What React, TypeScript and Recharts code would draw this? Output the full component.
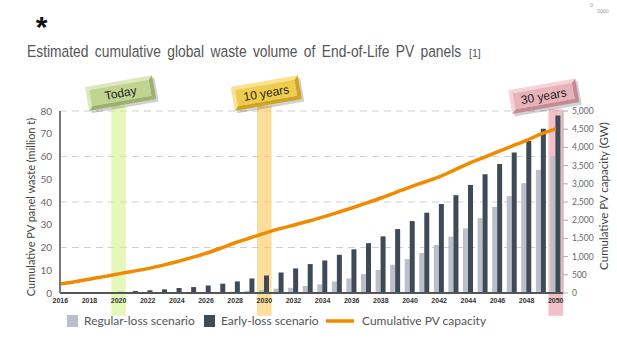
import React, { useLayoutEffect, useRef, useState } from 'react';
import {
  ComposedChart,
  Bar,
  Line,
  XAxis,
  YAxis,
  CartesianGrid,
  ReferenceArea,
} from 'recharts';

// years on the x axis
const years = [
  2016, 2017, 2018, 2019, 2020, 2021, 2022, 2023, 2024, 2025, 2026, 2027,
  2028, 2029, 2030, 2031, 2032, 2033, 2034, 2035, 2036, 2037, 2038, 2039,
  2040, 2041, 2042, 2043, 2044, 2045, 2046, 2047, 2048, 2049, 2050,
];

// cumulative panel waste, million t
const regularLoss = [
  0.05, 0.06, 0.08, 0.1, 0.12, 0.15, 0.18, 0.22, 0.26, 0.3, 0.35, 0.45,
  0.6, 1.0, 1.3, 1.9, 2.3, 3.1, 3.8, 5.1, 6.4, 8.3, 10.1, 12.4,
  14.9, 17.6, 21.1, 24.8, 28.4, 32.9, 37.8, 42.6, 48.3, 54.1, 60.2,
];
const earlyLoss = [
  0.05, 0.1, 0.2, 0.3, 0.5, 0.9, 1.2, 1.6, 2.2, 2.6, 3.3, 4.1,
  5.1, 6.4, 7.7, 9.0, 10.8, 12.7, 14.3, 16.8, 19.2, 21.9, 24.9, 28.1,
  31.6, 35.3, 39.1, 43.0, 47.5, 52.2, 56.7, 61.8, 66.8, 72.2, 78.0,
];

// cumulative installed PV, GW
const pvCapacity = [
  250, 310, 380, 450, 525, 595, 670, 760, 860, 970, 1090, 1230,
  1380, 1510, 1640, 1760, 1860, 1970, 2085, 2210, 2335, 2470, 2610, 2760,
  2910, 3050, 3190, 3370, 3555, 3715, 3875, 4035, 4195, 4370, 4510,
];

const wasteTicks = [0, 10, 20, 30, 40, 50, 60, 70, 80];
const capacityTicks = [0, 500, 1000, 1500, 2000, 2500, 3000, 3500, 4000, 4500, 5000];

const data = years.map((year, i) => ({
  year,
  regular: regularLoss[i],
  early: earlyLoss[i],
  capacity: pvCapacity[i],
}));

const font = 'Lato, "Liberation Sans", sans-serif';
const arial = '"Liberation Sans", Arial, sans-serif';

type PlaqueProps = {
  viewBox?: { x: number; y: number; width: number; height: number };
  text: string;
  face: string;
  light: string;
  dark: string;
  dx: number;
};

const Plaque = ({ viewBox, text, face, light, dark, dx }: PlaqueProps) => {
  if (!viewBox) return null;
  const cx = viewBox.x + viewBox.width / 2 + dx;
  const cy = viewBox.y - 13;
  const w = 68;
  const h = 24;
  const b = 4;
  const l = cx - w / 2;
  const r = cx + w / 2;
  const t = cy - h / 2;
  const btm = cy + h / 2;
  return (
    <g transform={`rotate(-10 ${cx} ${cy})`}>
      <rect x={l + 2} y={t + 3} width={w} height={h} fill="rgba(0,0,0,0.18)" />
      <polygon points={`${l},${t} ${r},${t} ${r - b},${t + b} ${l + b},${t + b}`} fill={light} />
      <polygon points={`${l},${btm} ${r},${btm} ${r - b},${btm - b} ${l + b},${btm - b}`} fill={dark} />
      <polygon points={`${l},${t} ${l + b},${t + b} ${l + b},${btm - b} ${l},${btm}`} fill={light} />
      <polygon points={`${r},${t} ${r - b},${t + b} ${r - b},${btm - b} ${r},${btm}`} fill={dark} />
      <rect x={l + b} y={t + b} width={w - 2 * b} height={h - 2 * b} fill={face} />
      <text
        x={cx}
        y={cy + 1}
        textAnchor="middle"
        dominantBaseline="middle"
        fontSize={12}
        fontFamily={arial}
        fill="#222"
      >
        {text}
      </text>
    </g>
  );
};

// title squeezed horizontally to mimic the narrow face of the original
const Title = () => {
  const ref = useRef<SVGTextElement>(null);
  const [sx, setSx] = useState(0.82);
  useLayoutEffect(() => {
    if (ref.current) {
      const w = ref.current.getComputedTextLength();
      if (w > 0) setSx(434 / w);
    }
  }, []);
  return (
    <text
      ref={ref}
      transform={`translate(27 57) scale(${sx} 1)`}
      fontSize={16.5}
      fill="#555"
      wordSpacing={3}
      fontFamily={arial}
    >
      Estimated cumulative global waste volume of End-of-Life PV panels
    </text>
  );
};

const App = () => {
  return (
    <div style={{ position: 'absolute', left: 0, top: 0, width: 617, height: 338, background: '#fff' }}>
      <ComposedChart
        width={617}
        height={338}
        data={data}
        margin={{ top: 111, right: 14, bottom: 30, left: 30 }}
        barGap={0}
      >
        <CartesianGrid yAxisId="left" vertical={false} stroke="#cfcfcf" strokeDasharray="7 5" />
        <XAxis
          dataKey="year"
          interval={1}
          padding={{ left: -7, right: 0 }}
          height={15}
          tickSize={3}
          tickLine={false}
          axisLine={{ stroke: '#555', strokeWidth: 2 }}
          tick={{ fontSize: 7, fontWeight: 700, fill: '#333', fontFamily: arial }}
        />
        <YAxis
          yAxisId="left"
          width={30}
          domain={[0, 80]}
          ticks={wasteTicks}
          tickLine={false}
          axisLine={{ stroke: '#777', strokeWidth: 2 }}
          tick={{ fontSize: 10, fill: '#666', fontFamily: font }}
        />
        <YAxis
          yAxisId="right"
          orientation="right"
          width={40}
          domain={[0, 5000]}
          ticks={capacityTicks}
          tickSize={5}
          tickMargin={4}
          tickLine={{ stroke: '#aaa' }}
          axisLine={{ stroke: '#aaa' }}
          tickFormatter={(v: number) => v.toLocaleString('en-US')}
          tick={{ fontSize: 8.5, fill: '#666', fontFamily: font }}
        />
        <Bar yAxisId="left" dataKey="regular" fill="#b9c0ca" barSize={5} isAnimationActive={false} />
        <Bar yAxisId="left" dataKey="early" fill="#3e4a55" barSize={5} isAnimationActive={false} />
        <ReferenceArea
          yAxisId="left"
          x1={2020}
          x2={2020}
          y1={-10}
          y2={82.2}
          ifOverflow="visible"
          fill="#d4f28a"
          fillOpacity={0.6}
          stroke="none"
          label={(p: any) => (
            <Plaque {...p} text="Today" face="#bfd490" light="#dce8bb" dark="#9db16a" dx={2} />
          )}
        />
        <ReferenceArea
          yAxisId="left"
          x1={2030}
          x2={2030}
          y1={-10}
          y2={82.2}
          ifOverflow="visible"
          fill="#fac85a"
          fillOpacity={0.6}
          stroke="none"
          label={(p: any) => (
            <Plaque {...p} text="10 years" face="#f0cc4c" light="#f8e38c" dark="#cfa41e" dx={2} />
          )}
        />
        <ReferenceArea
          yAxisId="left"
          x1={2050}
          x2={2050}
          y1={-10}
          y2={80.8}
          ifOverflow="visible"
          fill="#e88c9a"
          fillOpacity={0.55}
          stroke="none"
          label={(p: any) => (
            <Plaque {...p} text="30 years" face="#e8b2b9" light="#f5d3d7" dark="#c68a93" dx={-12} />
          )}
        />
        <Line
          yAxisId="right"
          dataKey="capacity"
          type="monotone"
          stroke="#f28a00"
          strokeWidth={3.5}
          dot={false}
          isAnimationActive={false}
        />
      </ComposedChart>

      <svg
        width={617}
        height={338}
        style={{ position: 'absolute', left: 0, top: 0, pointerEvents: 'none' }}
      >
        <text x={41.5} y={37} textAnchor="middle" fontSize={30} fontWeight={700} fill="#111" fontFamily={arial}>*</text>
        <Title />
        <text x={469} y={57} fontSize={10.5} fill="#555" fontFamily={arial}>[1]</text>

        <text x={590} y={7} fontSize={5} fill="#999" fontFamily={font}>0</text>
        <text x={597} y={13} fontSize={5} fill="#999" fontFamily={font}>2000</text>

        <text
          x={32}
          y={207}
          transform="rotate(-90 32 207)"
          textAnchor="middle"
          dominantBaseline="middle"
          fontSize={11}
          fill="#444"
          fontFamily={font}
        >
          Cumulative PV panel waste (million t)
        </text>
        <text
          x={605}
          y={196}
          transform="rotate(-90 605 196)"
          textAnchor="middle"
          dominantBaseline="middle"
          fontSize={11.5}
          fill="#444"
          fontFamily={font}
        >
          Cumulative PV capacity (GW)
        </text>

        <rect x={67} y={315} width={11} height={12} fill="#b9c0ca" />
        <text x={84} y={325} fontSize={12} fill="#555" fontFamily={font}>Regular-loss scenario</text>
        <rect x={204} y={315} width={11} height={12} fill="#3e4a55" />
        <text x={221} y={325} fontSize={12} fill="#555" fontFamily={font}>Early-loss scenario</text>
        <line x1={326} x2={354} y1={321} y2={321} stroke="#f28a00" strokeWidth={3.5} />
        <text x={362} y={325} fontSize={12} fill="#555" fontFamily={font}>Cumulative PV capacity</text>
      </svg>
    </div>
  );
};

export default App;
